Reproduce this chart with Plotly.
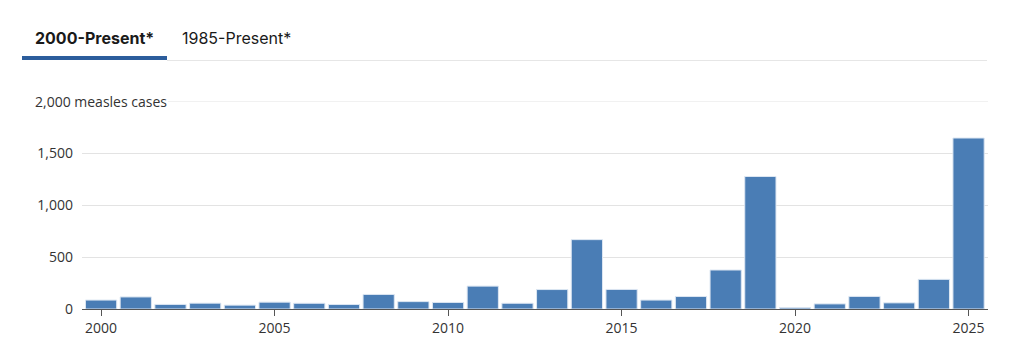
import plotly.graph_objects as go

years = list(range(2000, 2026))
cases = [86, 116, 44, 56, 37, 66, 55, 43, 140, 71, 63, 220, 55, 187, 667, 188,
         86, 120, 375, 1274, 13, 49, 121, 59, 285, 1644]
y_tickvals = [0, 500, 1000, 1500]
y_ticktext = ["0", "500", "1,000", "1,500"]
x_tickvals = [2000, 2005, 2010, 2015, 2020, 2025]
tab_labels = ["2000-Present*", "1985-Present*"]

# page body has an 8px margin; work in reference pixel coords and offset
OFF = 8
W, H = 1024 - OFF, 357 - OFF
L, R, T, B = 82 - OFF, 988 - OFF, 101 - OFF, 309 - OFF

def px(x):
    return (x - OFF - L) / (R - L)

def py(y):
    return (B - (y - OFF)) / (B - T)

fig = go.Figure(go.Bar(
    x=years, y=cases,
    marker=dict(color="#4a7db5", line=dict(color="#dce6f2", width=1)),
    width=0.9,
    hoverinfo="x+y",
))

fig.update_layout(
    width=W, height=H,
    margin=dict(l=L, r=W - R, t=T, b=H - B),
    paper_bgcolor="#ffffff", plot_bgcolor="#ffffff",
    showlegend=False,
    font=dict(family="Open Sans", color="#333333", size=14),
    xaxis=dict(
        range=[1999.45, 2025.56], tickvals=x_tickvals,
        showgrid=False, showline=True, linecolor="#555555", linewidth=1,
        ticks="outside", ticklen=6, tickcolor="#555555", tickwidth=1,
        tickfont=dict(family="Open Sans", size=14, color="#333333"),
        fixedrange=True,
    ),
    yaxis=dict(
        range=[0, 2000], tickvals=y_tickvals, ticktext=y_ticktext,
        showgrid=True, gridcolor="#e3e3e3", gridwidth=1,
        zeroline=False, showline=False, ticks="",
        ticklabelstandoff=8,
        tickfont=dict(family="Open Sans", size=14, color="#333333"),
        fixedrange=True,
    ),
    bargap=0.1,
)

# top gridline with inline unit label
fig.add_shape(type="line", xref="paper", yref="y", x0=px(168), x1=1, y0=2000, y1=2000,
              line=dict(color="#e3e3e3", width=1), layer="below")
fig.add_annotation(text="2,000 measles cases", xref="paper", yref="y", x=px(33), y=2000,
                   xanchor="left", yanchor="middle", showarrow=False,
                   font=dict(family="Open Sans", size=14, color="#333333"))

# tabs
fig.add_annotation(text="<b>" + tab_labels[0] + "</b>", xref="paper", yref="paper",
                   x=px(94.5), y=py(38), xanchor="center", yanchor="middle", showarrow=False,
                   font=dict(family="Inter", size=16, color="#1a1a1a"))
fig.add_annotation(text=tab_labels[1], xref="paper", yref="paper",
                   x=px(236.5), y=py(38), xanchor="center", yanchor="middle", showarrow=False,
                   font=dict(family="Inter", size=16, color="#1a1a1a"))
fig.add_shape(type="line", xref="paper", yref="paper", x0=px(167), x1=px(987),
              y0=py(60.5), y1=py(60.5), line=dict(color="#e6e6e6", width=1))
fig.add_shape(type="rect", xref="paper", yref="paper", x0=px(22), x1=px(167),
              y0=py(60), y1=py(56), line=dict(width=0), fillcolor="#2c5d9c")

fig.write_html("out.html")
